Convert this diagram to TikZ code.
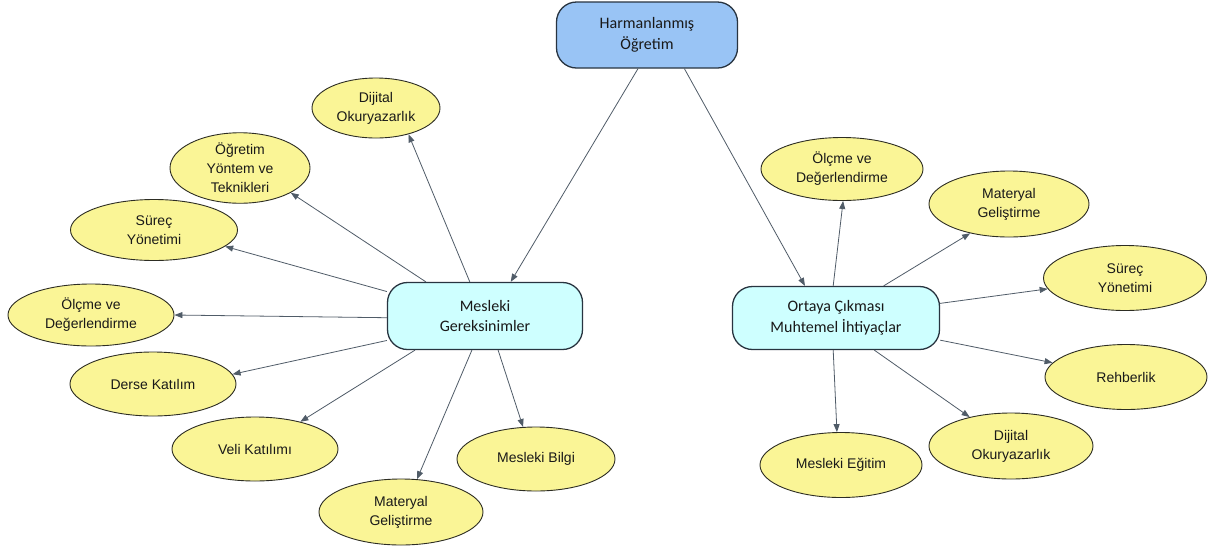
\documentclass[tikz,border=0pt]{standalone}
\usepackage{fontspec}
\setmainfont{Liberation Sans}
\newfontfamily\arialf{Liberation Sans}
\newfontfamily\calib{Carlito}
\usetikzlibrary{shapes.geometric,arrows.meta}
\definecolor{topfill}{RGB}{153,196,245}
\definecolor{mainfill}{RGB}{206,255,255}
\definecolor{elfill}{RGB}{250,245,150}
\definecolor{hubborder}{RGB}{40,52,64}
\definecolor{elborder}{RGB}{45,45,35}
\definecolor{edgecol}{RGB}{80,92,104}
\begin{document}
\begin{tikzpicture}[x=1pt,y=-1pt,
 hub/.style={rectangle, draw=hubborder, line width=1.3pt, rounded corners=20pt, align=center,
   inner sep=0pt, font=\calib\fontsize{16}{20.5}\selectfont, text=black!90},
 leaf/.style={ellipse, draw=elborder, line width=0.9pt, fill=elfill, align=center,
   inner sep=0pt, font=\arialf\fontsize{14}{19}\selectfont, text=black!90},
 link/.style={draw=edgecol, line width=0.8pt, -{Triangle[length=8pt,width=6pt]}}]
\useasboundingbox (0,0) rectangle (1210,550);
\fill[white] (0,0) rectangle (1210,550);

% hubs
\node[hub, fill=topfill, minimum width=181pt, minimum height=66pt] (T) at (647,35) {Harmanlanmış\\Öğretim};
\node[hub, fill=mainfill, minimum width=195pt, minimum height=67pt] (MG) at (485,316) {Mesleki\\Gereksinimler};
\node[hub, fill=mainfill, minimum width=207pt, minimum height=63pt] (OC) at (836,318) {Ortaya Çıkması\\Muhtemel İhtiyaçlar};

% left leaves
\node[leaf, minimum width=128pt, minimum height=60pt] (d1) at (376,108) {Dijital\\Okuryazarlık};
\node[leaf, minimum width=140pt, minimum height=68pt] (o1) at (240,168) {Öğretim\\Yöntem ve\\Teknikleri};
\node[leaf, minimum width=167pt, minimum height=61pt] (s1) at (154,230) {Süreç\\Yönetimi};
\node[leaf, minimum width=166pt, minimum height=62pt] (l1) at (91,315) {Ölçme ve\\Değerlendirme};
\node[leaf, minimum width=166pt, minimum height=64pt] (k1) at (153,384) {Derse Katılım};
\node[leaf, minimum width=166pt, minimum height=64pt] (v1) at (255,449) {Veli Katılımı};
\node[leaf, minimum width=164pt, minimum height=66pt] (m1) at (401,512) {Materyal\\Geliştirme};
\node[leaf, minimum width=158pt, minimum height=64pt] (b1) at (536,459) {Mesleki Bilgi};

% right leaves
\node[leaf, minimum width=162pt, minimum height=63pt] (l2) at (842,169) {Ölçme ve\\Değerlendirme};
\node[leaf, minimum width=160pt, minimum height=66pt] (m2) at (1009,204) {Materyal\\Geliştirme};
\node[leaf, minimum width=163pt, minimum height=65pt] (s2) at (1125,278) {Süreç\\Yönetimi};
\node[leaf, minimum width=162pt, minimum height=65pt] (r2) at (1126,377) {Rehberlik};
\node[leaf, minimum width=164pt, minimum height=66pt] (d2) at (1011,446) {Dijital\\Okuryazarlık};
\node[leaf, minimum width=162pt, minimum height=65pt] (e2) at (841,465) {Mesleki Eğitim};

% connectors from top
\draw[link] (T.-105) -- (MG.53);
\draw[link] (T.-42) -- (OC.134);

% connectors from Mesleki Gereksinimler
\draw[link] (MG.114) -- (d1.-39);
\draw[link] (MG.150) -- (o1.-26);
\draw[link] (MG.166) -- (s1.-13);
\draw[link] (MG.181) -- (l1.0);
\draw[link] (MG.194) -- (k1.7);
\draw[link] (MG.206) -- (v1.31);
\draw[link] (MG.249) -- (m1.64);
\draw[link] (MG.-69) -- (b1.112);

% connectors from Ortaya Cikmasi
\draw[link] (OC.95) -- (l2.-88);
\draw[link] (OC.34) -- (m2.-143);
\draw[link] (OC.8) -- (s2.188);
\draw[link] (OC.-12) -- (r2.169);
\draw[link] (OC.-40) -- (d2.145);
\draw[link] (OC.-95) -- (e2.97);
\end{tikzpicture}
\end{document}
